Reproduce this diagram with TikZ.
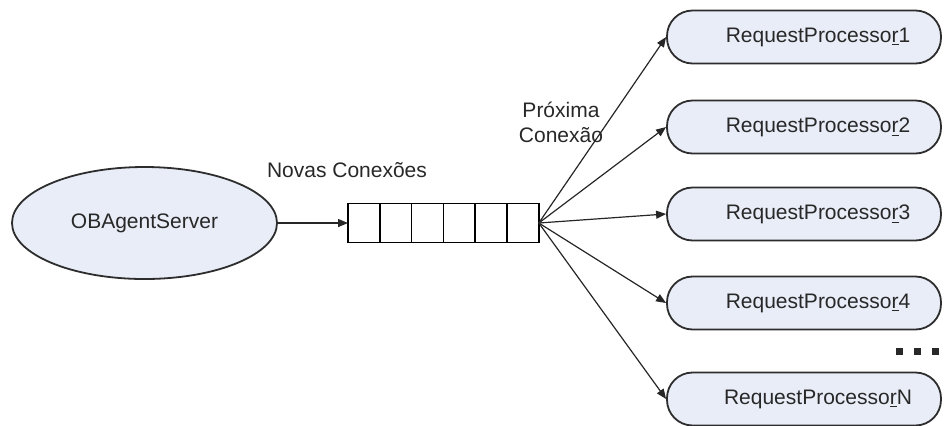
\documentclass[tikz,border=0pt]{standalone}
\usepackage{fontspec}
\setmainfont{Liberation Sans}
\usetikzlibrary{positioning,shapes.geometric,arrows.meta}
\definecolor{nodecol}{RGB}{233,237,248}
\definecolor{edgecol}{RGB}{45,45,45}
\definecolor{txtcol}{RGB}{40,40,40}

\newcommand{\rproc}[1]{\hspace*{14pt}RequestProcesso\underline{r}#1}

\begin{document}
\begin{tikzpicture}[
  x=0.5pt, y=-0.5pt,
  every node/.style={font=\fontsize{10.5pt}{12.5pt}\selectfont, text=txtcol},
  server/.style={ellipse, draw=edgecol, line width=0.9pt, fill=nodecol, minimum width=132.5pt, minimum height=56pt, inner sep=0pt},
  cell/.style={rectangle, draw=black, line width=0.8pt, minimum width=15.9pt, minimum height=19.5pt, inner sep=0pt, outer sep=0pt},
  rpbox/.style={rectangle, rounded corners=12.8pt, draw=edgecol, line width=0.9pt, fill=nodecol, minimum width=137pt, minimum height=26.5pt, inner sep=0pt},
  arr/.style={-{Triangle[length=5pt,width=4pt]}, line width=0.6pt, black!85}
]
\useasboundingbox (0,0) rectangle (944,425);

% ---------------- server ----------------
\node[server] (server) at (144.5,223) {OBAgentServer};

% ---------------- queue ----------------
\foreach \i in {1,...,6}
  \node[cell] (q\i) at ({348+15.9+(\i-1)*31.8},223) {};

\node (novas) at (347,170) {Novas Conexões};
\node[align=center, inner sep=0pt] (proxima) at (561,122) {Próxima\\Conexão};

% ---------------- request processors ----------------
\node[rpbox] (rp1) at (804,37)  {\rproc{1}};
\node[rpbox] (rp2) at (804,127) {\rproc{2}};
\node[rpbox] (rp3) at (804,214) {\rproc{3}};
\node[rpbox] (rp4) at (804,303) {\rproc{4}};
\node[rpbox] (rpN) at (804,399) {\rproc{N}};

\node[inner sep=0pt] (more) at (917,351) {\rule{3.5pt}{3.5pt}\hspace{5.5pt}\rule{3.5pt}{3.5pt}\hspace{5.5pt}\rule{3.5pt}{3.5pt}};

% ---------------- arrows ----------------
\draw[arr] (server.east) -- (q1.west);
\foreach \r in {rp1,rp2,rp3,rp4,rpN}
  \draw[arr] (q6.east) -- (\r.west);

\end{tikzpicture}
\end{document}
